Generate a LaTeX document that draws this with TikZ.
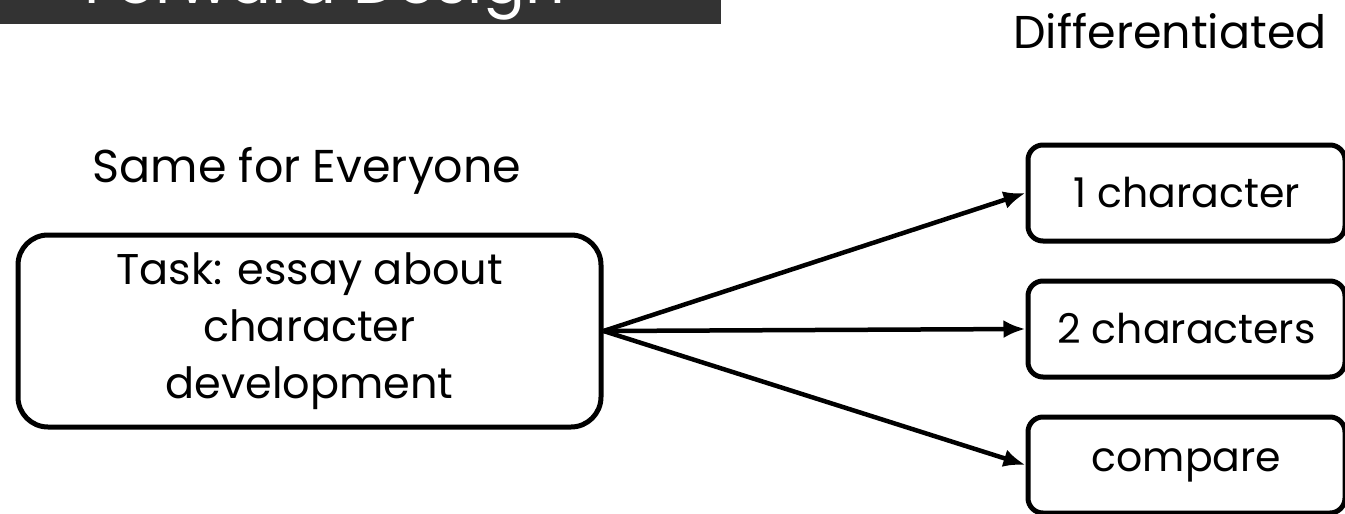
\documentclass[tikz,border=0pt]{standalone}
\usepackage{fontspec}
\setmainfont{Poppins}
\usetikzlibrary{arrows.meta}
\definecolor{bargrey}{HTML}{333333}

\begin{document}
\begin{tikzpicture}[x=1pt, y=-1pt,
                    box/.style={draw, line width=5pt, rounded corners=15pt, align=center,
                                font=\fontsize{41}{57}\selectfont, inner sep=0pt},
                    heading/.style={font=\fontsize{46}{52}\selectfont, anchor=base},
                    link/.style={line width=4.5pt, -{Latex[length=22pt, width=18pt]}}]
                \useasboundingbox (0,0) rectangle (1345,514);
                \clip (0,0) rectangle (1345,514);

                \fill [bargrey] (0,0) rectangle (721,24);
                \node (title) [anchor=base east, text=white, inner sep=0,
                               font=\fontsize{62}{70}\selectfont] at (565,3) {Forward Design};

                \node (same) [heading] at (307,182) {Same for Everyone};
                \node (diff) [heading] at (1170,48) {Differentiated};

                \node (task) [box, rounded corners=30pt, minimum width=583pt, minimum height=192pt,
                              font=\fontsize{43}{57}\selectfont]
                      at (309.5,331) {Task: essay about\\character\\development};

                \node (one)   [box, minimum width=317pt, minimum height=96pt] at (1186.5,193) {1 character};
                \node (two)   [box, minimum width=317pt, minimum height=96pt] at (1186.5,329) {2 characters};
                \node (three) [box, minimum width=317pt, minimum height=96pt] at (1186.5,465) {compare};

                \draw [link] (task.east) -- (one.west);
                \draw [link] (task.east) -- (two.west);
                \draw [link] (task.east) -- (three.west);
            \end{tikzpicture}
\end{document}
